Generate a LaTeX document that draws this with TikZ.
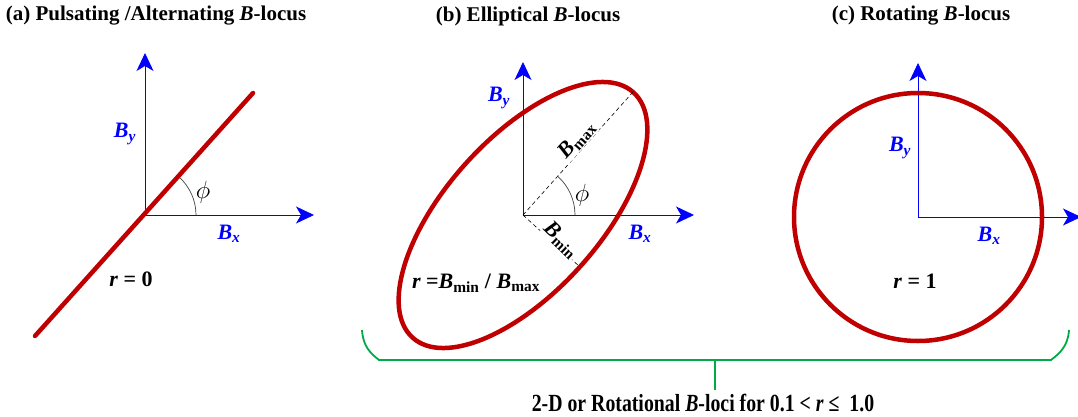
\documentclass[tikz,border=0pt]{standalone}
\usepackage{fontspec}
\setmainfont{Liberation Serif}
\usetikzlibrary{arrows.meta}
\definecolor{locusred}{RGB}{192,0,0}
\definecolor{axisblue}{RGB}{0,0,255}
\definecolor{bracegreen}{RGB}{0,170,70}
\newcommand{\Bsub}[1]{{\bfseries\itshape B}\textsubscript{\bfseries\itshape #1}}
\newcommand{\Bup}[1]{{\bfseries\itshape B}\textsubscript{\bfseries #1}}
\begin{document}
\begin{tikzpicture}[x=1pt,y=-1pt,
  axis/.style={draw=axisblue,line width=0.9pt,-{Stealth[length=18pt,width=17pt,inset=5pt]}},
  locus/.style={draw=locusred,line width=4.5pt,line cap=round},
  angarc/.style={draw=black!75,line width=0.7pt},
  dashline/.style={draw=black,line width=0.6pt,dash pattern=on 4pt off 3pt},
  axlabel/.style={text=axisblue,font=\fontsize{22}{24}\selectfont,inner sep=0pt},
  plain/.style={text=black,font=\fontsize{22}{24}\selectfont,inner sep=0pt},
  philabel/.style={text=black,font=\fontsize{26}{28}\selectfont,inner sep=0pt},
  title/.style={text=black,font=\fontsize{21}{24}\selectfont\bfseries,inner sep=0pt},
  bracestyle/.style={draw=bracegreen,line width=1.8pt}]
\useasboundingbox (0,0) rectangle (1078,417);

% ---------- titles
\node[title] (ta) at (156,16) {(a) Pulsating /Alternating \textit{B}-locus};
\node[title] (tb) at (528,16) {(b) Elliptical \textit{B}-locus};
\node[title] (tc) at (921,16) {(c) Rotating \textit{B}-locus};

% ---------- panel (a)
\coordinate (Oa) at (145,215);
\coordinate (Ya) at (145,53);
\coordinate (Xa) at (314,215);
\draw[axis] (Oa) -- (Ya);
\draw[axis] (Oa) -- (Xa);
\coordinate (La1) at (35,336);
\coordinate (La2) at (253,93);
\draw[locus] (La1) -- (La2);
\draw[angarc] (196,215) arc[start angle=0,end angle=-48,radius=51];
\node[axlabel] (bya) at (125,134) {\Bsub{y}};
\node[axlabel] (bxa) at (229,234) {\Bsub{x}};
\node[philabel] (phia) at (203,192) {$\phi$};
\node[plain] (ra) at (131,279) {\bfseries\itshape r\upshape\ = 0};

% ---------- panel (b)
\coordinate (Ob) at (523,215);
\coordinate (Yb) at (523,62);
\coordinate (Xb) at (694,215);
\draw[axis] (Ob) -- (Yb);
\draw[axis] (Ob) -- (Xb);
\draw[locus,rotate around={48:(Ob)}] (Ob) ellipse[x radius=165,y radius=77];
\coordinate (Mb) at (633,92);
\coordinate (Nb) at (580,267);
\draw[dashline] (Ob) -- (Mb);
\draw[dashline] (Ob) -- (Nb);
\draw[angarc] (575,215) arc[start angle=0,end angle=-48,radius=52];
\node[axlabel] (byb) at (499,98) {\Bsub{y}};
\node[axlabel] (bxb) at (640,234) {\Bsub{x}};
\node[plain,rotate=48,fill=white,inner sep=1pt] (bmax) at (577,140) {\Bup{max}};
\node[plain,rotate=-44,fill=white,inner sep=1pt] (bmin) at (561,240) {\Bup{min}};
\node[philabel] (phib) at (582,195) {$\phi$};
\node[plain] (rb) at (476,283) {\bfseries\itshape r\upshape\ =\Bup{min} / \Bup{max}};

% ---------- panel (c)
\coordinate (Oc) at (918,217);
\coordinate (Yc) at (918,63);
\coordinate (Xc) at (1081,217);
\draw[axis] (Oc) -- (Yc);
\draw[axis] (Oc) -- (Xc);
\draw[locus] (Oc) circle[radius=124];
\node[axlabel] (byc) at (900,148) {\Bsub{y}};
\node[axlabel] (bxc) at (989,236) {\Bsub{x}};
\node[plain] (rc) at (915,281) {\bfseries\itshape r\upshape\ = 1};

% ---------- brace
\coordinate (bl) at (362,330);
\coordinate (br) at (1069,330);
\coordinate (bm) at (715,360);
\coordinate (bt) at (715,390);
\draw[bracestyle] (bl) .. controls (363,346) and (370,353) .. (379,360) -- (1051,360) .. controls (1060,353) and (1068,346) .. (br);
\draw[bracestyle] (bm) -- (bt);
\node[text=black,inner sep=0pt] (bottom) at (703,403) {\scalebox{0.9}[1.12]{\fontsize{22}{24}\selectfont\bfseries 2-D or Rotational \textit{B}-loci for 0.1 {\textless} \textit{r} ≤\ \ 1.0}};
\end{tikzpicture}
\end{document}
